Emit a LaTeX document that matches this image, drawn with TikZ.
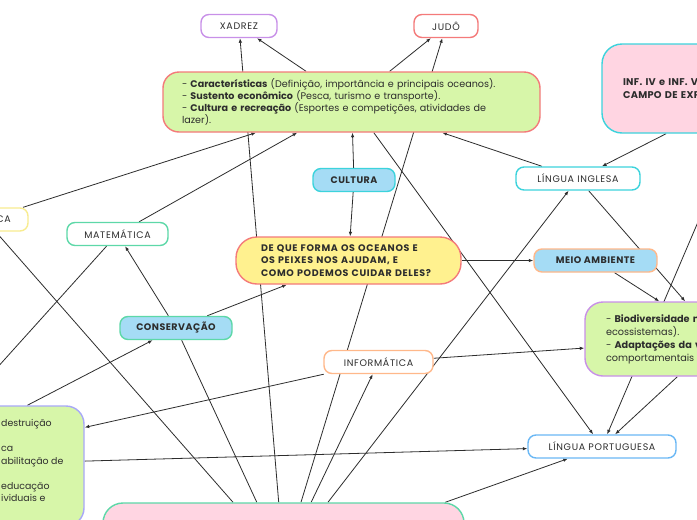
\documentclass[tikz,border=0pt]{standalone}
\usepackage{fontspec}
\setmainfont{Poppins}
\usetikzlibrary{arrows.meta,backgrounds}
\definecolor{cgreen}{HTML}{D7F6A9}
\definecolor{cpink}{HTML}{FFD5E2}
\definecolor{cyel}{HTML}{FFF18F}
\definecolor{cblue}{HTML}{A5DCF5}
\definecolor{cred}{HTML}{F47A7A}
\definecolor{cpurple}{HTML}{C890E8}
\definecolor{ccyan}{HTML}{3CD3DC}
\definecolor{cteal}{HTML}{5DD8A8}
\definecolor{cpeach}{HTML}{FFB88A}
\definecolor{cblue2}{HTML}{6AB8F5}
\definecolor{clav}{HTML}{A8A8F8}
\definecolor{cyb}{HTML}{F8EC90}
\definecolor{txt}{HTML}{2D2D2D}
\newcommand{\nfont}{\fontsize{9.5}{11}\selectfont\addfontfeatures{LetterSpace=7}}
\newcommand{\bfont}{\fontsize{9.5}{11}\selectfont\bfseries\addfontfeatures{LetterSpace=5}}
\tikzset{
  nbox/.style={draw, rounded corners=8pt, line width=1.4pt, minimum height=23pt, inner sep=0pt,
    fill=white, text=txt, font=\nfont},
  bbox/.style={nbox, font=\bfont},
  bigbox/.style={draw, line width=1.4pt, inner sep=0pt, text=txt, align=left,
    font=\fontsize{9.6}{12}\selectfont},
  arr/.style={draw=txt, line width=0.8pt, -{Latex[length=4.5pt,width=3.5pt]}},
  ln/.style={draw=txt, line width=0.8pt},
}
\begin{document}
\begin{tikzpicture}[x=1pt,y=-1pt]
\useasboundingbox (0,0) rectangle (697,520);
\clip (0,0) rectangle (697,520);
% nodes
\node[nbox, draw=cpurple, minimum width=76pt] (xad) at (239,26) {XADREZ};
\node[nbox, draw=cred, minimum width=64pt] (judo) at (446,26) {JUDÔ};
\node[bigbox, draw=cred, fill=cgreen, rounded corners=16pt, minimum width=377pt, minimum height=60pt, text width=339pt] (carac) at (351.5,102)
 {- \textbf{Características} (Definição, importância e principais oceanos).\\
  - \textbf{Sustento econômico} (Pesca, turismo e transporte).\\
  - \textbf{Cultura e recreação} (Esportes e competições, atividades de\\
  lazer).};
\node[bigbox, draw=ccyan, fill=cpink, rounded corners=20pt, minimum width=306pt, minimum height=89pt, text width=264pt, font=\fontsize{9.8}{13.5}\selectfont\bfseries\addfontfeatures{LetterSpace=3}] (inf) at (755,88.5)
 {INF. IV e INF. V\\ CAMPO DE EXPERIÊNCIAS};
\node[nbox, draw=ccyan, minimum width=124pt] (li) at (578,178.5) {LÍNGUA INGLESA};
\node[bbox, draw=ccyan, fill=cblue, minimum width=82pt] (cultura) at (354,180) {CULTURA};
\node[nbox, draw=cyb, minimum width=86pt] (ca) at (-15,219.5) {};
\node[text=txt, font=\nfont, anchor=east, inner sep=0pt] (catext) at (11,219.5) {CA};
\node[nbox, draw=cteal, minimum width=101pt] (mat) at (117.5,234) {MATEMÁTICA};
\node[bigbox, draw=cred, fill=cyel, rounded corners=21pt, minimum width=225pt, minimum height=47pt, text width=175pt, font=\fontsize{9.5}{12.5}\selectfont\bfseries\addfontfeatures{LetterSpace=7}] (central) at (348.5,260.5)
 {DE QUE FORMA OS OCEANOS E\\ OS PEIXES NOS AJUDAM, E\\ COMO PODEMOS CUIDAR DELES?};
\node[bbox, draw=cpeach, fill=cblue, minimum width=123pt] (meio) at (595.5,260.5) {MEIO AMBIENTE};
\node[bbox, draw=cteal, fill=cblue, minimum width=112pt] (cons) at (176,328) {CONSERVAÇÃO};
\node[nbox, draw=cpeach, minimum width=109pt] (info) at (378.5,362) {INFORMÁTICA};
\node[bigbox, draw=cpurple, fill=cgreen, rounded corners=18pt, minimum width=266pt, minimum height=74pt, text width=224pt, font=\fontsize{9.7}{13}\selectfont] (bio) at (718,339)
 {- \textbf{Biodiversidade marinha} (espécies e\\ ecossistemas).\\ - \textbf{Adaptações da vida marinha}\\ comportamentais e};
\node[nbox, draw=cblue2, minimum width=148pt] (lp) at (602,446.5) {LÍNGUA PORTUGUESA};
\node[bigbox, draw=clav, fill=cgreen, rounded corners=18pt, minimum width=346pt, minimum height=120pt] (left) at (-89,466) {};
\node[text=txt, align=left, anchor=west, inner sep=0pt, font=\fontsize{9.4}{12.5}\selectfont] (lefttext) at (1,460.5)
 {destruição\\ \mbox{}\\ ca\\ abilitação de\\ \mbox{}\\ educação\\ ividuais e};
\node[bigbox, draw=cteal, fill=cpink, rounded corners=20pt, minimum width=361pt, minimum height=114pt] (pink) at (283.5,560) {};
\coordinate (matoff) at (-40,409);
% connectors
\begin{pgfonlayer}{background}
\clip (0,0) rectangle (697,520);
\fill[white] (0,0) rectangle (697,520);
\draw[arr] (carac) -- (xad);
\draw[arr] (pink) -- (xad);
\draw[arr] (carac) -- (judo);
\draw[arr] (pink) -- (judo);
\draw[arr] (li) -- (carac);
\draw[arr] (inf) -- (li);
\draw[arr] (ca) -- (carac);
\draw[arr] (mat) -- (carac);
\draw[arr] (cultura) -- (carac);
\draw[arr] (cultura) -- (central);
\draw[arr] (central) -- (meio);
\draw[arr] (li) -- (bio);
\draw[arr] (meio) -- (bio);
\draw[arr] (carac) -- (lp);
\draw[arr] (cons) -- (central);
\draw[arr] (cons) -- (mat);
\draw[ln] (mat) -- (matoff);
\draw[ln] (ca) -- (pink);
\draw[ln] (cons) -- (pink);
\draw[arr] (left) -- (cons);
\draw[arr] (info) -- (left);
\draw[arr] (left) -- (lp);
\draw[arr] (info) -- (bio);
\draw[arr] (pink) -- (info);
\draw[arr] (pink) -- (li);
\draw[arr] (pink) -- (lp);
\draw[arr] (bio) -- (lp);
\draw[arr] (inf) -- (lp);
\end{pgfonlayer}
\end{tikzpicture}
\end{document}
